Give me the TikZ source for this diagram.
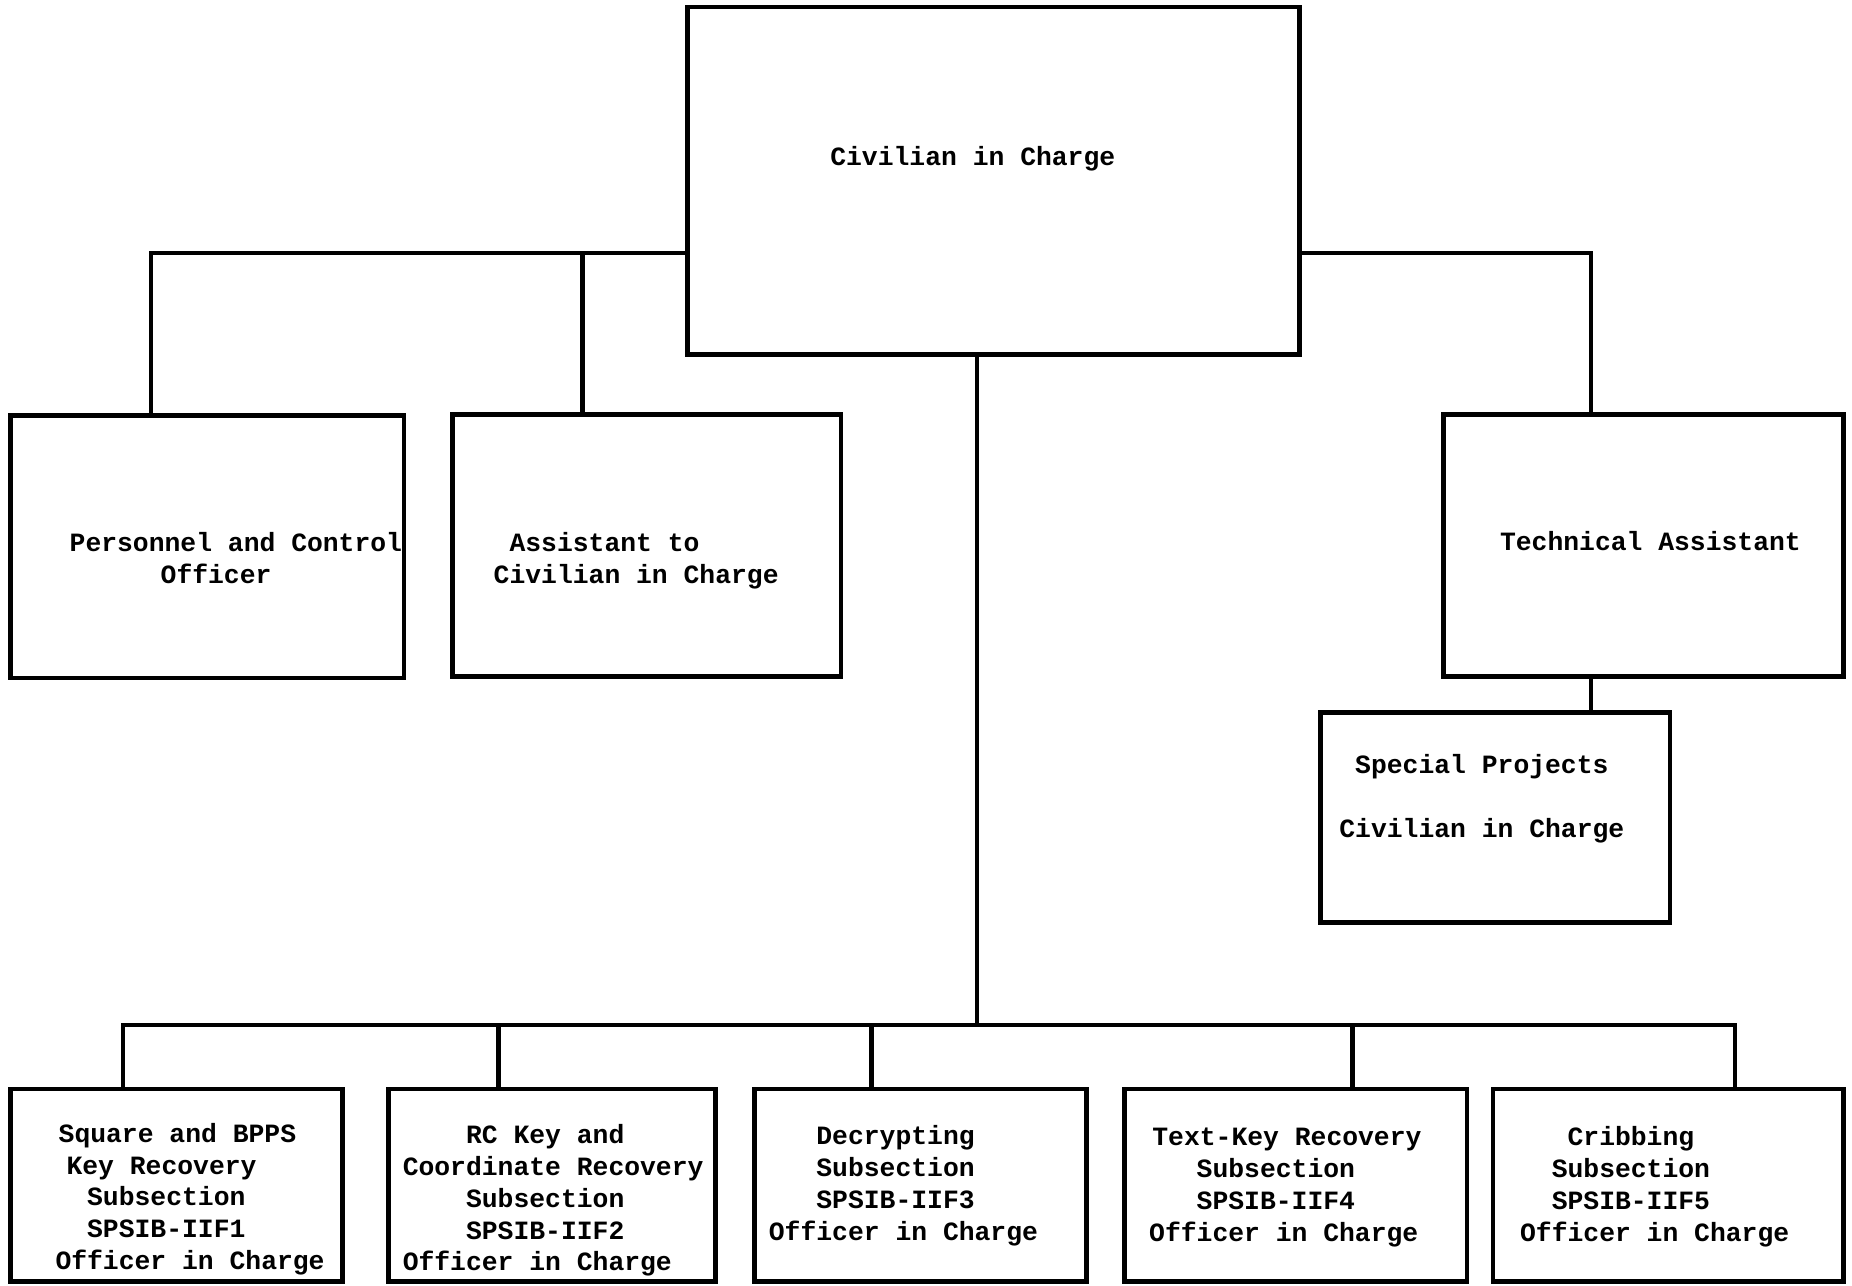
\documentclass[tikz,border=0pt]{standalone}
\usepackage{fontspec}
\newfontfamily\twfont{Liberation Mono}
\newlength\cw
\setlength\cw{7.914pt}
\newcommand\ind[1]{\hspace*{#1\cw}}
\newcommand\orgbox[5]{\node[box, minimum width={(#4-#2)*0.5906pt}, minimum height={(#5-#3)*0.5906pt}] (#1) at ({(#2+#4)/2},{(#3+#5)/2}) {};}
\begin{document}
\begin{tikzpicture}[x=0.5906pt, y=-0.5906pt,
  box/.style={draw, rectangle, inner sep=0pt, outer sep=0pt, line width=2.3pt},
  txt/.style={font=\twfont\bfseries\fontsize{13.19pt}{15.95pt}\selectfont, inner sep=0pt, outer sep=0pt, anchor=base west, align=left},
  link/.style={line width=2.2pt}]
\fill[white] (0,0) rectangle (1568,1088);
\useasboundingbox (0,0) rectangle (1568,1088);

% boxes
\orgbox{top}{582}{6}{1100}{300}
\orgbox{pers}{9}{352}{342}{574}
\orgbox{asst}{383}{351}{712}{573}
\orgbox{tech}{1222}{351}{1561}{573}
\orgbox{spec}{1118}{603}{1414}{781}
\orgbox{b1}{9}{922}{290}{1085}
\orgbox{b2}{329}{922}{606}{1085}
\orgbox{b3}{639}{922}{920}{1085}
\orgbox{b4}{952}{922}{1242}{1085}
\orgbox{b5}{1264}{922}{1561}{1085}

% texts (multi-line nodes: base anchor is the last line's baseline)
\node[txt] (ttop) at (703,140) {Civilian in Charge};
\node[txt] (tpers) at (59,494) {Personnel and Control\\\ind{5.75}Officer};
\node[txt] (tasst) at (418,494) {\ind{1}Assistant to\\Civilian in Charge};
\node[txt] (ttech) at (1270,466) {Technical Assistant};
\node[txt] (tspec) at (1134,709) {\ind{1}Special Projects\\[15.95pt]Civilian in Charge};
\node[txt] (tb1) at (47,1075) {\ind{0.2}Square and BPPS\\\ind{0.7}Key Recovery\\\ind{2}Subsection\\\ind{2}SPSIB-IIF1\\Officer in Charge};
\node[txt] (tb2) at (341,1076) {\ind{4}RC Key and\\Coordinate Recovery\\\ind{4}Subsection\\\ind{4}SPSIB-IIF2\\Officer in Charge};
\node[txt] (tb3) at (651,1050) {\ind{3}Decrypting\\\ind{3}Subsection\\\ind{3}SPSIB-IIF3\\Officer in Charge};
\node[txt] (tb4) at (973,1051) {\ind{0.2}Text-Key Recovery\\\ind{3}Subsection\\\ind{3}SPSIB-IIF4\\Officer in Charge};
\node[txt] (tb5) at (1287,1051) {\ind{3}Cribbing\\\ind{2}Subsection\\\ind{2}SPSIB-IIF5\\Officer in Charge};

% junction points
\coordinate (jl1) at (128,214);
\coordinate (jl2) at (493,214);
\coordinate (jr) at (1347,214);
\coordinate (jc) at (827,868);
\coordinate (d1) at (104,868);
\coordinate (d2) at (422,868);
\coordinate (d3) at (738,868);
\coordinate (d4) at (1145,868);
\coordinate (d5) at (1469,868);

% connectors
\draw[link] (top.west |- jl1) -- (jl1) -- (jl1 |- pers.north);
\draw[link] (jl2) -- (jl2 |- asst.north);
\draw[link] (top.east |- jr) -- (jr) -- (jr |- tech.north);
\draw[link] (jr |- tech.south) -- (jr |- spec.north);
\draw[link] (jc |- top.south) -- (jc);
\draw[link] (d1 |- b1.north) -- (d1) -- (d5) -- (d5 |- b5.north);
\draw[link] (d2) -- (d2 |- b2.north);
\draw[link] (d3) -- (d3 |- b3.north);
\draw[link] (d4) -- (d4 |- b4.north);
\end{tikzpicture}
\end{document}
